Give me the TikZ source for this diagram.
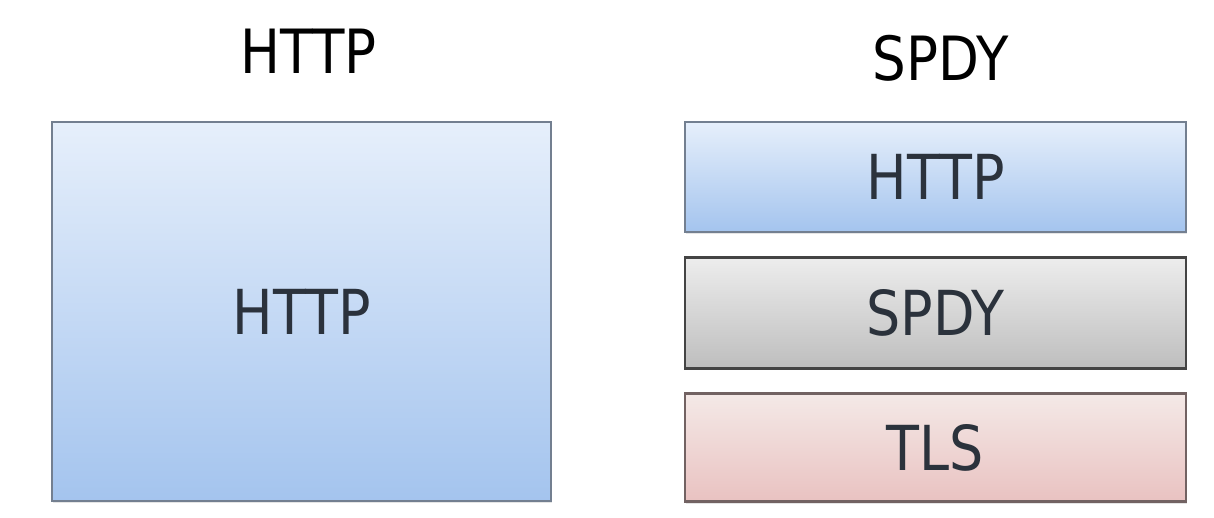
\documentclass[tikz,border=0pt]{standalone}
\usepackage{fontspec}
\newfontfamily\labelfont[FakeStretch=0.87]{DejaVu Sans}
\usetikzlibrary{positioning, shadows}
\definecolor{bluetop}{HTML}{E6EFFB}
\definecolor{bluebot}{HTML}{A4C4EE}
\definecolor{blueline}{HTML}{737F90}
\definecolor{graytop}{HTML}{EDEDED}
\definecolor{graybot}{HTML}{BEBEBE}
\definecolor{grayline}{HTML}{444444}
\definecolor{pinktop}{HTML}{F4E9E7}
\definecolor{pinkbot}{HTML}{E9C2C1}
\definecolor{pinkline}{HTML}{726262}
\definecolor{labeltext}{HTML}{2B323C}
\tikzstyle{layer} = [rectangle, line width = 2.8pt, text centered,
  font = \labelfont\fontsize{62}{62}\selectfont, text = labeltext,
  drop shadow = {opacity = 0.2, shadow xshift = 1pt, shadow yshift = -2pt}]
\tikzstyle{title} = [inner sep = 0, font = \labelfont\fontsize{61}{61}\selectfont]
\tikzstyle{blue} = [layer, draw = blueline, top color = bluetop, bottom color = bluebot]
\tikzstyle{gray} = [layer, draw = grayline, top color = graytop, bottom color = graybot]
\tikzstyle{pink} = [layer, draw = pinkline, top color = pinktop, bottom color = pinkbot]

\begin{document}
\begin{tikzpicture}[node distance = 22.5pt]
    \fill [white] (0, 0) rectangle (1214pt, 518pt);
    \useasboundingbox (0, 0) rectangle (1214pt, 518pt);
    % left stack
    \node [blue, minimum width = 499pt, minimum height = 379pt] (box-http)
      at (301.5pt, 206.5pt) {HTTP};
    \node [title, above = 47pt of box-http.north, xshift = 7pt] (title-http) {HTTP};
    % right stack
    \node [blue, minimum width = 501pt, minimum height = 110pt] (box-spdy-http)
      at (935.5pt, 341pt) {HTTP};
    \node [gray, minimum width = 501pt, minimum height = 111pt,
      below = of box-spdy-http] (box-spdy) {SPDY};
    \node [pink, minimum width = 501pt, minimum height = 108pt,
      below = of box-spdy] (box-tls) {TLS};
    \node [title, above = 39pt of box-spdy-http.north, xshift = 5pt] (title-spdy) {SPDY};
\end{tikzpicture}
\end{document}
